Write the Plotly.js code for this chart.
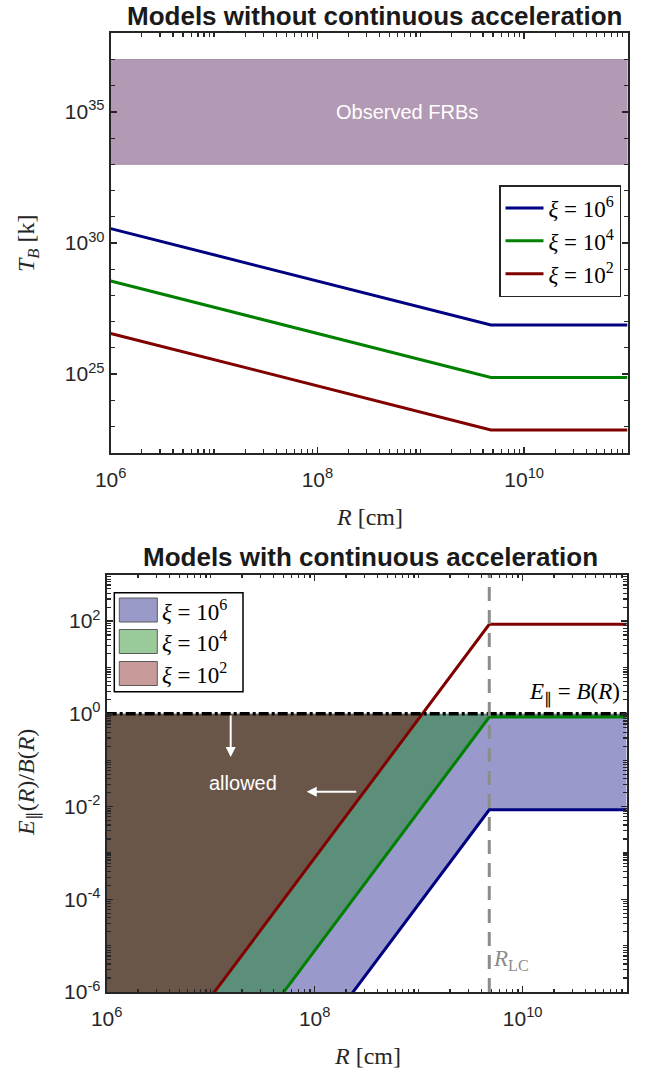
<!DOCTYPE html>
<html><head><meta charset="utf-8">
<script src="https://cdn.plot.ly/plotly-3.0.1.min.js"></script>
<style>html,body{margin:0;padding:0;background:#fff}#chart{width:650px;height:1070px}</style>
</head><body><div id="chart"></div>
<script>
// ---------------- data ----------------
// Top panel: brightness temperature vs radius, models without continuous acceleration
const R_top  = [1e6, 4.77e9, 1e11];            // R [cm]
const TB_xi6 = [3.55e30, 7.4e26, 7.4e26];      // T_B [K], xi = 1e6
const TB_xi4 = [3.55e28, 7.4e24, 7.4e24];      // xi = 1e4
const TB_xi2 = [3.55e26, 7.4e22, 7.4e22];      // xi = 1e2
const frbR   = [1e6, 1e11, 1e11, 1e6];         // extent of observed FRB band
const frbTB  = [1e33, 1e33, 1e37, 1e37];

// Bottom panel: E_par/B vs radius, models with continuous acceleration
const R_bot  = [1e6, 4.77e9, 1e11];
const EB_xi6 = [7.8e-14, 8.5e-3, 8.5e-3];
const EB_xi4 = [7.8e-12, 0.85, 0.85];
const EB_xi2 = [7.8e-10, 85, 85];
const xi2CrossR = 1.085e9;                     // where xi=1e2 curve meets E=B
const limitR  = [1e6, 1e11];
const limitEB = [1, 1];                        // E_par = B(R)
const R_LC    = 4.77e9;                        // light-cylinder radius
const lcEB    = [1e-6, 1e3];

const seriesNames = ['<i>ξ</i> = 10<sup>6</sup>', '<i>ξ</i> = 10<sup>4</sup>', '<i>ξ</i> = 10<sup>2</sup>'];
const xTickVals = [1e6, 1e8, 1e10];
const xTickText = ['10<sup>6</sup>', '10<sup>8</sup>', '10<sup>10</sup>'];
const yTopTickVals = [1e25, 1e30, 1e35];
const yTopTickText = ['10<sup>25</sup>', '10<sup>30</sup>', '10<sup>35</sup>'];
const yBotTickVals = [1e-6, 1e-4, 1e-2, 1e0, 1e2];
const yBotTickText = ['10<sup>-6</sup>', '10<sup>-4</sup>', '10<sup>-2</sup>', '10<sup>0</sup>', '10<sup>2</sup>'];

// ---------------- styling ----------------
const W = 650, H = 1070;
const px = v => v / W, py = v => 1 - v / H;
const NAVY = '#000080', GREEN = '#008000', MAROON = '#800000';
const AX = '#262626';
const SANS = 'Liberation Sans, Arial, sans-serif';
const SERIF = 'Liberation Serif, Times New Roman, serif';

const traces = [];
// top panel
traces.push({x: frbR, y: frbTB, xaxis: 'x', yaxis: 'y', type: 'scatter', mode: 'lines', fill: 'toself',
  fillcolor: '#b39ab4', line: {color: '#9c839d', width: 0.8}, showlegend: false, hoverinfo: 'skip'});
[[TB_xi6, NAVY, 0], [TB_xi4, GREEN, 1], [TB_xi2, MAROON, 2]].forEach(([ys, c, i]) => {
  traces.push({x: R_top, y: ys, xaxis: 'x', yaxis: 'y', type: 'scatter', mode: 'lines',
    name: seriesNames[i], line: {color: c, width: 3}, legend: 'legend'});
});

// bottom panel fills (between curve and E=B)
function poly(xs, ys) {
  return {x: xs.concat([limitR[1], limitR[0]]), y: ys.concat([limitEB[1], limitEB[0]])};
}
const f6 = poly(R_bot, EB_xi6), f4 = poly(R_bot, EB_xi4);
traces.push({x: f6.x, y: f6.y, xaxis: 'x2', yaxis: 'y2', type: 'scatter', mode: 'none', fill: 'toself',
  fillcolor: 'rgba(0,0,128,0.4)', showlegend: false, hoverinfo: 'skip'});
traces.push({x: f4.x, y: f4.y, xaxis: 'x2', yaxis: 'y2', type: 'scatter', mode: 'none', fill: 'toself',
  fillcolor: 'rgba(0,128,0,0.4)', showlegend: false, hoverinfo: 'skip'});
traces.push({x: [R_bot[0], xi2CrossR, limitR[0]], y: [EB_xi2[0], limitEB[0], limitEB[0]], xaxis: 'x2', yaxis: 'y2',
  type: 'scatter', mode: 'none', fill: 'toself', fillcolor: 'rgba(128,0,0,0.4)', showlegend: false, hoverinfo: 'skip'});
// curves
[[EB_xi6, NAVY], [EB_xi4, GREEN], [EB_xi2, MAROON]].forEach(([ys, c]) => {
  traces.push({x: R_bot, y: ys, xaxis: 'x2', yaxis: 'y2', type: 'scatter', mode: 'lines',
    line: {color: c, width: 3}, showlegend: false});
});
// E = B line
traces.push({x: limitR, y: limitEB, xaxis: 'x2', yaxis: 'y2', type: 'scatter', mode: 'lines',
  line: {color: '#000', width: 3.5, dash: '10px,3px,3px,3px'}, showlegend: false});
// light cylinder
traces.push({x: [R_LC, R_LC], y: lcEB, xaxis: 'x2', yaxis: 'y2', type: 'scatter', mode: 'lines',
  line: {color: '#8c8c8c', width: 3, dash: '14px,9px'}, showlegend: false});

function xax(domain, anchor) {
  return {type: 'log', range: [6, 11], domain: domain, anchor: anchor,
    tickmode: 'array', tickvals: xTickVals, ticktext: xTickText,
    ticks: 'inside', ticklen: 6, tickwidth: 1.5, tickcolor: AX, ticklabelstandoff: 7,
    minor: {ticks: 'inside', ticklen: 3.5, tickwidth: 1.2, tickcolor: AX, dtick: 'D1', showgrid: false},
    showline: true, linecolor: AX, linewidth: 2, mirror: 'ticks',
    showgrid: false, zeroline: false,
    tickfont: {family: SANS, size: 21, color: AX}};
}
function yax(domain, anchor, range, tv, tt, minorDtick) {
  return {type: 'log', range: range, domain: domain, anchor: anchor,
    tickmode: 'array', tickvals: tv, ticktext: tt,
    ticks: 'inside', ticklen: 6, tickwidth: 1.5, tickcolor: AX,
    minor: {ticks: 'inside', ticklen: 4, tickwidth: 1.2, tickcolor: AX, dtick: minorDtick, showgrid: false},
    showline: true, linecolor: AX, linewidth: 2, mirror: 'ticks',
    showgrid: false, zeroline: false,
    tickfont: {family: SANS, size: 21, color: AX}};
}

const ann = [];
function note(o) { ann.push(Object.assign({xanchor: 'center', yanchor: 'middle', showarrow: false}, o)); }
note({text: '<b>Models without continuous acceleration</b>', xref: 'paper', yref: 'paper', x: px(375), y: py(16),
  font: {family: SANS, size: 26, color: '#1a1a1a'}});
note({text: '<b>Models with continuous acceleration</b>', xref: 'paper', yref: 'paper', x: px(370), y: py(557),
  font: {family: SANS, size: 26, color: '#1a1a1a'}});
note({text: '<i>R</i> [cm]', xref: 'paper', yref: 'paper', x: px(369), y: py(517),
  font: {family: SERIF, size: 24, color: AX}});
note({text: '<i>R</i> [cm]', xref: 'paper', yref: 'paper', x: px(367), y: py(1056),
  font: {family: SERIF, size: 24, color: AX}});
note({text: '<i>T<sub>B</sub></i> [k]', xref: 'paper', yref: 'paper', x: px(28), y: py(243),
  textangle: -90, font: {family: SERIF, size: 24, color: AX}});
note({text: '<i>E</i><sub>∥</sub>(<i>R</i>)/<i>B</i>(<i>R</i>)', xref: 'paper', yref: 'paper', x: px(28), y: py(783),
  textangle: -90, font: {family: SERIF, size: 24, color: AX}});
note({text: 'Observed FRBs', xref: 'x', yref: 'y', x: 8.87, y: 35,
  font: {family: SANS, size: 20, color: '#ffffff'}});
note({text: '<i>E</i><sub>∥</sub> = <i>B</i>(<i>R</i>)', xref: 'paper', yref: 'paper', x: px(622), y: py(693),
  xanchor: 'right', font: {family: SERIF, size: 23, color: '#000'}});
note({text: '<i>R</i><sub>LC</sub>', xref: 'paper', yref: 'paper', x: px(491), y: py(960),
  xanchor: 'left', font: {family: SERIF, size: 23, color: '#8c8c8c'}});
note({text: 'allowed', xref: 'paper', yref: 'paper', x: px(243), y: py(783),
  font: {family: SANS, size: 20, color: '#ffffff'}});
ann.push({text: '', xref: 'paper', yref: 'paper', x: px(230.7), y: py(757), ax: 0, ay: -43, showarrow: true,
  arrowhead: 2, arrowsize: 1, arrowwidth: 2, arrowcolor: '#ffffff'});
ann.push({text: '', xref: 'paper', yref: 'paper', x: px(306.7), y: py(791.7), ax: 51, ay: 0, showarrow: true,
  arrowhead: 2, arrowsize: 1, arrowwidth: 2, arrowcolor: '#ffffff'});

// bottom legend (patch legend drawn by hand)
const shapes = [];
shapes.push({type: 'rect', xref: 'paper', yref: 'paper', x0: px(114.3), x1: px(243), y0: py(691.7), y1: py(592.7),
  line: {color: '#000', width: 1.5}, fillcolor: '#fff', layer: 'above'});
const patchCols = ['#9a9ac9', '#9ac99a', '#c99a9a'];
const rowY = [610, 641.5, 673.5];
rowY.forEach((yy, i) => {
  shapes.push({type: 'rect', xref: 'paper', yref: 'paper', x0: px(119.3), x1: px(157.3), y0: py(yy + 12), y1: py(yy - 12),
    line: {color: '#5a5a5a', width: 1}, fillcolor: patchCols[i], layer: 'above'});
  note({text: seriesNames[i], xref: 'paper', yref: 'paper', x: px(160), y: py(yy), xanchor: 'left',
    font: {family: SERIF, size: 23, color: '#000'}});
});

const layout = {
  width: W, height: H, margin: {l: 0, r: 0, t: 0, b: 0},
  paper_bgcolor: '#fff', plot_bgcolor: '#fff',
  xaxis: xax([px(110.7), px(627.5)], 'y'),
  yaxis: yax([py(452.7), py(33.3)], 'x', [22, 38], yTopTickVals, yTopTickText, 1),
  xaxis2: xax([px(106.7), px(626.7)], 'y2'),
  yaxis2: yax([py(992), py(574.7)], 'x2', [-6, 3], yBotTickVals, yBotTickText, 'D1'),
  showlegend: true,
  legend: {x: px(621), xanchor: 'right', y: py(185), yanchor: 'top', bgcolor: '#fff',
    bordercolor: '#262626', borderwidth: 1.5, itemwidth: 38, tracegroupgap: 0,
    font: {family: SERIF, size: 23, color: '#000'}},
  annotations: ann, shapes: shapes
};
Plotly.newPlot('chart', traces, layout, {displayModeBar: false, staticPlot: true});
</script></body></html>
